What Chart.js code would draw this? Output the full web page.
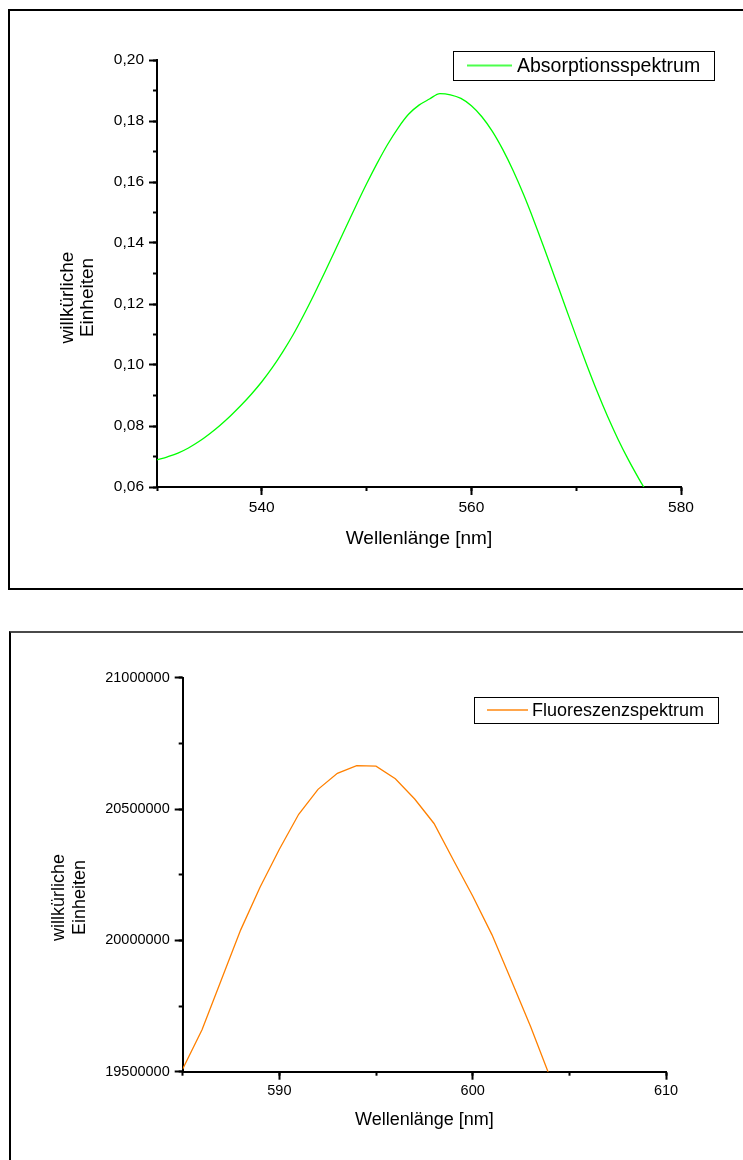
<!DOCTYPE html>
<html lang="de">
<head>
<meta charset="utf-8">
<title>Absorptions- und Fluoreszenzspektrum</title>
<script src="https://cdn.jsdelivr.net/npm/chart.js@4.4.1/dist/chart.umd.min.js"></script>
<style>
  html, body { margin: 0; padding: 0; background: #fff; overflow: hidden; }
  body { position: relative; width: 743px; height: 1160px; }
  canvas { position: absolute; left: 0; }
  #absChart { top: 0; }
  #fluoChart { top: 610px; }
  .rahmen { position: absolute; box-sizing: border-box; pointer-events: none; }
  #rahmen1 { left: 8px; top: 9px; width: 780px; height: 581px; border: 2px solid #000; }
  #rahmen2 { left: 9px; top: 631px; width: 780px; height: 600px; border: 2px solid #000; border-top-color: #4a4a4a; }
</style>
</head>
<body>
<canvas id="absChart" width="743" height="600"></canvas>
<canvas id="fluoChart" width="743" height="550"></canvas>
<div class="rahmen" id="rahmen1"></div>
<div class="rahmen" id="rahmen2"></div>

<script>
// Absorptionsspektrum (Wellenlänge in nm)
const absWellenlaenge = [530, 531, 532, 533, 534, 535, 536, 537, 538, 539,
  540, 541, 542, 543, 544, 545, 546, 547, 548, 549,
  550, 551, 552, 553, 554, 555, 556, 557, 558, 559,
  560, 561, 562, 563, 564, 565, 566, 567, 568, 569,
  570, 571, 572, 573, 574, 575, 576, 577];
const absWerte = [0.0689, 0.0699, 0.0711, 0.0728, 0.0749, 0.0774, 0.0802, 0.0833, 0.0867, 0.0904,
  0.0945, 0.0991, 0.1043, 0.1100, 0.1164, 0.1232, 0.1303, 0.1376, 0.1450, 0.1523,
  0.1594, 0.1661, 0.1723, 0.1777, 0.1822, 0.1852, 0.1872, 0.1890, 0.1886, 0.1874,
  0.1850, 0.1814, 0.1766, 0.1706, 0.1636, 0.1557, 0.1470, 0.1378, 0.1283, 0.1188,
  0.1093, 0.1001, 0.0913, 0.0831, 0.0756, 0.0688, 0.0626, 0.0568];
const absXTicks = [540, 560, 580];
const absYTicks = [0.06, 0.08, 0.10, 0.12, 0.14, 0.16, 0.18, 0.20];

// Fluoreszenzspektrum
const fluoWellenlaenge = [585, 586, 587, 588, 589, 590, 591, 592, 593, 594,
  595, 596, 597, 598, 599, 600, 601, 602, 603, 604];
const fluoWerte = [19510000, 19660000, 19850000, 20040000, 20202000, 20347000, 20480000, 20575000, 20636000, 20665000,
  20663000, 20615000, 20538000, 20445000, 20306000, 20169000, 20021000, 19847000, 19671000, 19480000];
const fluoXTicks = [590, 600, 610];
const fluoYTicks = [19500000, 20000000, 20500000, 21000000];

const schrift = '"Liberation Sans", Arial, Helvetica, sans-serif';

// Legende mit Rahmen wie im Original
const rahmenLegende = {
  id: 'rahmenLegende',
  afterDraw(chart, args, o) {
    const ctx = chart.ctx;
    const ds = chart.data.datasets[0];
    const mitte = o.y + o.h / 2;
    ctx.save();
    ctx.fillStyle = '#fff';
    ctx.fillRect(o.x, o.y, o.w, o.h);
    ctx.strokeStyle = '#000';
    ctx.lineWidth = 1;
    ctx.strokeRect(o.x + 0.5, o.y + 0.5, o.w, o.h);
    ctx.strokeStyle = ds.borderColor;
    ctx.globalAlpha = 0.7;
    ctx.lineWidth = 2;
    ctx.beginPath();
    ctx.moveTo(o.x + o.linie[0], mitte);
    ctx.lineTo(o.x + o.linie[1], mitte);
    ctx.stroke();
    ctx.globalAlpha = 1;
    ctx.fillStyle = '#000';
    ctx.font = o.size + 'px ' + schrift;
    ctx.textBaseline = 'middle';
    ctx.fillText(ds.label, o.x + o.textX, mitte + 1);
    ctx.restore();
  }
};

// zweizeiliger Achsentitel links, gedreht
const yTitel = {
  id: 'yTitel',
  afterDraw(chart, args, o) {
    const ctx = chart.ctx;
    ctx.save();
    ctx.fillStyle = '#000';
    ctx.font = o.size + 'px ' + schrift;
    ctx.textAlign = 'center';
    ctx.textBaseline = 'alphabetic';
    o.zeilen.forEach((z, i) => {
      ctx.save();
      ctx.translate(o.x[i], o.y);
      ctx.rotate(-Math.PI / 2);
      ctx.fillText(z, 0, 0);
      ctx.restore();
    });
    ctx.restore();
  }
};

function achse(s) {
  return {
    grid: { display: true, drawOnChartArea: false, drawTicks: true, tickLength: s.lang, tickWidth: 2, tickColor: '#000' },
    border: { display: s.linie, color: '#000', width: 2 }
  };
}

function spektrum(id, s) {
  return new Chart(document.getElementById(id), {
    type: 'line',
    data: {
      datasets: [{
        label: s.label,
        data: s.x.map((x, i) => ({ x: x, y: s.y[i] })),
        borderColor: s.farbe,
        borderWidth: 1.3,
        pointRadius: 0,
        cubicInterpolationMode: s.glatt ? 'monotone' : 'default',
        tension: 0,
        fill: false
      }]
    },
    plugins: [rahmenLegende, yTitel],
    options: {
      responsive: false,
      animation: false,
      devicePixelRatio: 1,
      layout: { padding: s.padding },
      plugins: {
        legend: { display: false },
        tooltip: { enabled: false },
        rahmenLegende: s.legende,
        yTitel: s.yTitel
      },
      scales: {
        x: Object.assign(achse({ lang: 8, linie: true }), {
          type: 'linear', position: 'bottom', weight: 1,
          min: s.xMin, max: s.xMax,
          afterBuildTicks: sc => { sc.ticks = s.xTicks.map(v => ({ value: v })); },
          afterFit: sc => { sc.height = s.xHoehe; },
          ticks: { autoSkip: false, maxRotation: 0, padding: 3, color: '#000', font: { family: schrift, size: s.tickSize } },
          title: { display: true, text: 'Wellenlänge [nm]', color: '#000', padding: 0, font: { family: schrift, size: s.titelSize, lineHeight: 1.2 } }
        }),
        xMinor: Object.assign(achse({ lang: 4, linie: false }), {
          type: 'linear', position: 'bottom', weight: 0,
          min: s.xMin, max: s.xMax,
          afterFit: sc => { sc.height = 0; },
          ticks: { display: false, autoSkip: false, stepSize: s.xMinorStep }
        }),
        y: Object.assign(achse({ lang: 8, linie: true }), {
          type: 'linear', position: 'left', weight: 1,
          min: s.yMin, max: s.yMax,
          afterBuildTicks: sc => { sc.ticks = s.yTicks.map(v => ({ value: v })); },
          afterFit: sc => { sc.width = s.yBreite; },
          ticks: { autoSkip: false, padding: 5, color: '#000', font: { family: schrift, size: s.tickSize }, callback: s.yFormat }
        }),
        yMinor: Object.assign(achse({ lang: 4, linie: false }), {
          type: 'linear', position: 'left', weight: 0,
          min: s.yMin, max: s.yMax,
          afterFit: sc => { sc.width = 0; },
          ticks: { display: false, autoSkip: false, stepSize: s.yMinorStep }
        })
      }
    }
  });
}

spektrum('absChart', {
  label: 'Absorptionsspektrum',
  x: absWellenlaenge, y: absWerte,
  farbe: '#00ff00', glatt: true,
  xMin: 530, xMax: 580, xTicks: absXTicks, xMinorStep: 10,
  yMin: 0.06, yMax: 0.20, yTicks: absYTicks, yMinorStep: 0.01,
  yFormat: v => v.toFixed(2).replace('.', ','),
  padding: { left: 0, top: 60, right: 62, bottom: 50.2 },
  xHoehe: 62.8, yBreite: 157,
  tickSize: 15.5, titelSize: 19,
  legende: { x: 453, y: 51, w: 261, h: 29, linie: [14, 59], textX: 64, size: 19.5 },
  yTitel: { zeilen: ['willkürliche', 'Einheiten'], x: [73.3, 92.7], y: 297.5, size: 19 }
});

spektrum('fluoChart', {
  label: 'Fluoreszenzspektrum',
  x: fluoWellenlaenge, y: fluoWerte,
  farbe: '#ff8000', glatt: false,
  xMin: 585, xMax: 610, xTicks: fluoXTicks, xMinorStep: 5,
  yMin: 19500000, yMax: 21000000, yTicks: fluoYTicks, yMinorStep: 250000,
  yFormat: v => String(Math.round(v)),
  padding: { left: 0, top: 67.7, right: 77, bottom: 28.7 },
  xHoehe: 59.6, yBreite: 182.7,
  tickSize: 14.5, titelSize: 18,
  legende: { x: 474, y: 87, w: 244, h: 26, linie: [13, 54], textX: 58, size: 18 },
  yTitel: { zeilen: ['willkürliche', 'Einheiten'], x: [64, 85], y: 287.5, size: 18 }
});
</script>
</body>
</html>
